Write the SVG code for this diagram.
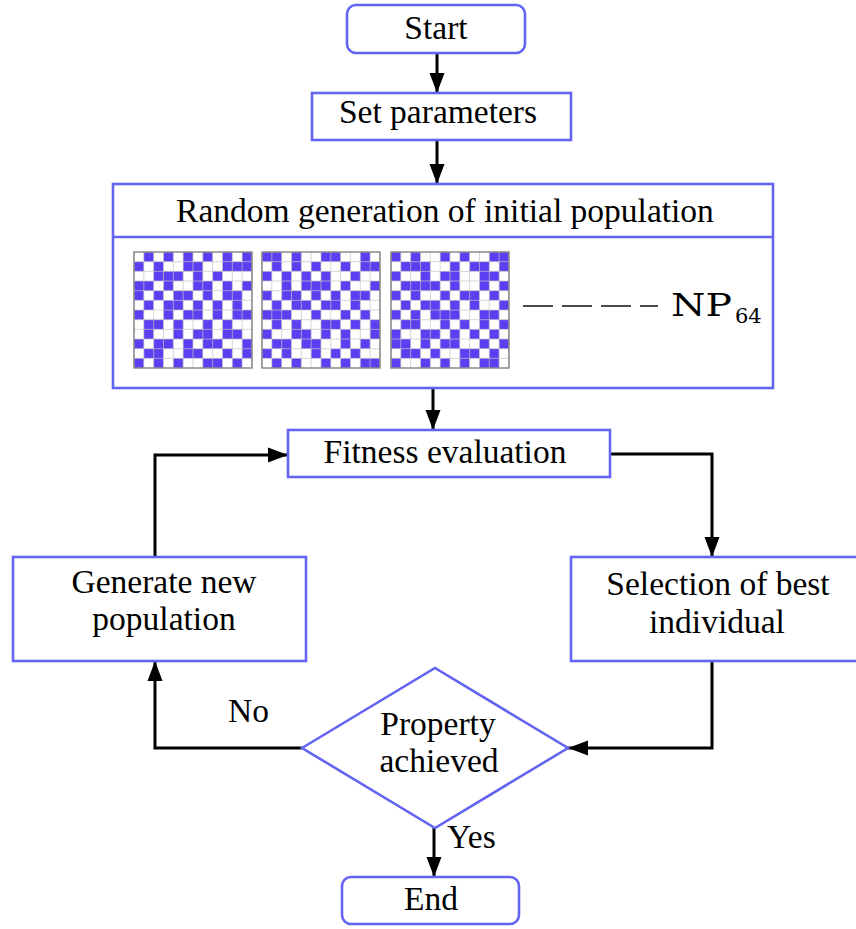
<svg xmlns="http://www.w3.org/2000/svg" xmlns:xlink="http://www.w3.org/1999/xlink" width="856" height="929" viewBox="0 0 856 929">
  <style>
    .box { fill: #ffffff; stroke: #6464f2; stroke-width: 2.6; }
    .lbl { font-family: "Liberation Serif", "Times New Roman", serif; font-size: 33.5px; fill: #000; text-anchor: middle; }
    .lbl-l { font-family: "Liberation Serif", "Times New Roman", serif; font-size: 33.5px; fill: #000; }
    .math { font-family: "DejaVu Serif", "Liberation Serif", serif; fill: #000; }
    .wire { fill: none; stroke: #000; stroke-width: 3; }
    .cells { fill: none; stroke: #5b3ff2; stroke-width: 1; }
    .gl { fill: none; stroke: #c4c4c4; stroke-width: 0.7; vector-effect: non-scaling-stroke; }
    .gb { fill: none; stroke: #8a8a8a; stroke-width: 1.6; vector-effect: non-scaling-stroke; }
  </style>
  <defs>
    <marker id="arrow" markerUnits="userSpaceOnUse" markerWidth="20" markerHeight="16" refX="20" refY="8" orient="auto">
      <path d="M0,0.5 L20,8 L0,15.5 z" fill="#000"/>
    </marker>
    <!-- 12 x 12 cell grid lines, unit coordinates -->
    <g id="gridlines">
      <path class="gl" d="M0 1h12M0 2h12M0 3h12M0 4h12M0 5h12M0 6h12M0 7h12M0 8h12M0 9h12M0 10h12M0 11h12M1 0v12M2 0v12M3 0v12M4 0v12M5 0v12M6 0v12M7 0v12M8 0v12M9 0v12M10 0v12M11 0v12"/>
      <rect class="gb" x="0" y="0" width="12" height="12"/>
    </g>
  </defs>

  <rect width="856" height="929" fill="#ffffff"/>

  <!-- connectors -->
  <g id="connectors">
    <path class="wire" d="M437 53 V93" marker-end="url(#arrow)"/>
    <path class="wire" d="M437 140 V184" marker-end="url(#arrow)"/>
    <path class="wire" d="M433 388 V430" marker-end="url(#arrow)"/>
    <path class="wire" d="M610 454 H712 V557" marker-end="url(#arrow)"/>
    <path class="wire" d="M712 661 V748 H568" marker-end="url(#arrow)"/>
    <path class="wire" d="M302 748 H155 V661" marker-end="url(#arrow)"/>
    <path class="wire" d="M155 557 V455 H288" marker-end="url(#arrow)"/>
    <path class="wire" d="M434 828 V877" marker-end="url(#arrow)"/>
  </g>

  <g id="start">
    <rect class="box" x="347" y="5" width="178" height="48" rx="9"/>
    <text class="lbl" x="436" y="39">Start</text>
  </g>

  <g id="set-parameters">
    <rect class="box" x="312" y="93" width="259" height="47"/>
    <text class="lbl" x="438" y="123">Set parameters</text>
  </g>

  <g id="initial-population">
    <rect class="box" x="113" y="184" width="660" height="204"/>
    <line x1="113" y1="237" x2="773" y2="237" stroke="#6464f2" stroke-width="2.6"/>
    <text class="lbl" x="445" y="222">Random generation of initial population</text>

    <g id="individual-1" transform="translate(134,252) scale(9.83,9.67)">
      <rect x="0" y="0" width="12" height="12" fill="#fff"/>
      <path class="cells" d="M1 .5h1M3 .5h1M5 .5h1M7 .5h1M9 .5h1M11 .5h1M0 1.5h1M2 1.5h1M5 1.5h2M9 1.5h3M2 2.5h3M6 2.5h1M8 2.5h1M0 3.5h2M3 3.5h1M6 3.5h2M9 3.5h1M11 3.5h1M0 4.5h1M2 4.5h1M4 4.5h2M7 4.5h1M9 4.5h2M1 5.5h1M3 5.5h2M6 5.5h1M8 5.5h1M10 5.5h1M0 6.5h1M3 6.5h1M5 6.5h2M8 6.5h1M10 6.5h2M1 7.5h2M4 7.5h1M7 7.5h1M9 7.5h1M1 8.5h1M4 8.5h1M6 8.5h2M9 8.5h2M0 9.5h1M2 9.5h2M5 9.5h1M7 9.5h2M11 9.5h1M1 10.5h2M5 10.5h2M9 10.5h1M11 10.5h1M0 11.5h1M2 11.5h1M4 11.5h1M7 11.5h2M10 11.5h1"/>
      <use xlink:href="#gridlines"/>
    </g>
    <g id="individual-2" transform="translate(262,252) scale(9.83,9.67)">
      <rect x="0" y="0" width="12" height="12" fill="#fff"/>
      <path class="cells" d="M0 .5h2M3 .5h1M6 .5h2M10 .5h1M1 1.5h1M3 1.5h1M5 1.5h1M8 1.5h1M10 1.5h2M0 2.5h1M2 2.5h1M4 2.5h1M6 2.5h1M9 2.5h1M2 3.5h1M4 3.5h3M8 3.5h1M11 3.5h1M0 4.5h1M2 4.5h2M5 4.5h1M7 4.5h1M9 4.5h2M1 5.5h1M3 5.5h2M6 5.5h2M9 5.5h1M0 6.5h3M5 6.5h1M8 6.5h1M10 6.5h1M1 7.5h1M3 7.5h1M6 7.5h2M9 7.5h1M11 7.5h1M0 8.5h1M3 8.5h2M6 8.5h1M8 8.5h1M11 8.5h1M1 9.5h2M4 9.5h2M8 9.5h1M10 9.5h1M0 10.5h1M2 10.5h1M5 10.5h1M7 10.5h1M9 10.5h1M1 11.5h1M3 11.5h1M6 11.5h1M8 11.5h1M10 11.5h2"/>
      <use xlink:href="#gridlines"/>
    </g>
    <g id="individual-3" transform="translate(391,252) scale(9.83,9.67)">
      <rect x="0" y="0" width="12" height="12" fill="#fff"/>
      <path class="cells" d="M0 .5h1M2 .5h1M5 .5h1M7 .5h1M10 .5h2M1 1.5h3M6 1.5h1M8 1.5h2M11 1.5h1M0 2.5h1M3 2.5h1M5 2.5h2M9 2.5h2M1 3.5h4M6 3.5h1M9 3.5h1M11 3.5h1M0 4.5h1M2 4.5h1M5 4.5h1M7 4.5h2M10 4.5h1M1 5.5h1M3 5.5h2M6 5.5h1M8 5.5h1M11 5.5h1M0 6.5h1M2 6.5h1M4 6.5h3M9 6.5h2M1 7.5h2M5 7.5h1M7 7.5h1M9 7.5h1M11 7.5h1M0 8.5h1M3 8.5h2M6 8.5h1M8 8.5h1M10 8.5h1M0 9.5h2M3 9.5h1M5 9.5h2M9 9.5h1M11 9.5h1M1 10.5h2M4 10.5h1M7 10.5h2M10 10.5h1M0 11.5h1M3 11.5h1M5 11.5h1M7 11.5h1M9 11.5h2"/>
      <use xlink:href="#gridlines"/>
    </g>

    <line x1="523" y1="306" x2="658" y2="306" stroke="#4a4a4a" stroke-width="2" stroke-dasharray="30 9"/>
    <text class="math" x="671" y="316" style="font-size:31px; font-weight:normal" textLength="61" lengthAdjust="spacingAndGlyphs">NP</text>
    <text class="math" x="735" y="323" style="font-size:21px">64</text>
  </g>

  <g id="fitness-evaluation">
    <rect class="box" x="288" y="430" width="322" height="47"/>
    <text class="lbl" x="445" y="463">Fitness evaluation</text>
  </g>

  <g id="generate-new-population">
    <rect class="box" x="13" y="557" width="293" height="104"/>
    <text class="lbl" x="164" y="593">Generate new</text>
    <text class="lbl" x="164" y="630">population</text>
  </g>

  <g id="selection-of-best">
    <rect class="box" x="571" y="557" width="300" height="104"/>
    <text class="lbl" x="718" y="595">Selection of best</text>
    <text class="lbl" x="717" y="633">individual</text>
  </g>

  <g id="property-achieved">
    <polygon class="box" points="302,748 435,668 568,748 435,828"/>
    <text class="lbl" x="438" y="735">Property</text>
    <text class="lbl" x="439" y="772">achieved</text>
  </g>

  <text class="lbl-l" x="228" y="722">No</text>
  <text class="lbl-l" x="447" y="848">Yes</text>

  <g id="end">
    <rect class="box" x="342" y="877" width="177" height="47" rx="9"/>
    <text class="lbl" x="431" y="910">End</text>
  </g>
</svg>
